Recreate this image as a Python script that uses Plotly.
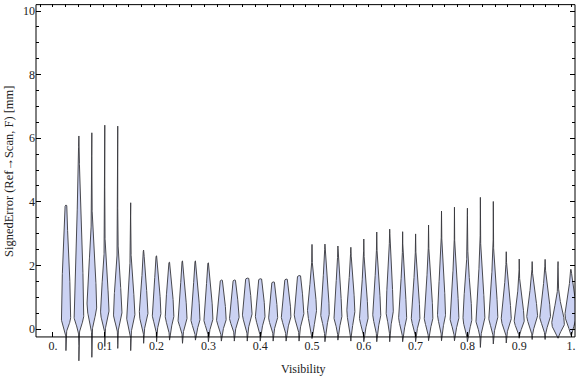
import numpy as np
import plotly.graph_objects as go

# ---- data ----
visibility = [0.025, 0.05, 0.075, 0.1, 0.125, 0.15, 0.175, 0.2, 0.225, 0.25,
              0.275, 0.3, 0.325, 0.35, 0.375, 0.4, 0.425, 0.45, 0.475, 0.5,
              0.525, 0.55, 0.575, 0.6, 0.625, 0.65, 0.675, 0.7, 0.725, 0.75,
              0.775, 0.8, 0.825, 0.85, 0.875, 0.9, 0.925, 0.95, 0.975, 1.0]
err_max = [3.90, 6.07, 6.17, 6.41, 6.38, 3.97, 2.48, 2.30, 2.10, 2.14,
           2.14, 2.08, 1.54, 1.54, 1.60, 1.58, 1.48, 1.57, 1.68, 2.66,
           2.67, 2.61, 2.57, 2.83, 3.05, 3.14, 3.06, 2.99, 3.27, 3.71,
           3.83, 3.80, 4.14, 4.01, 2.43, 2.20, 2.12, 2.19, 2.12, 1.88]
err_min = [-0.68, -1.00, -0.89, -0.55, -0.61, -0.68, -0.45, -0.40, -0.35, -0.45,
           -0.35, -0.40, -0.38, -0.38, -0.38, -0.38, -0.38, -0.38, -0.38, -0.30,
           -0.40, -0.35, -0.38, -0.40, -0.40, -0.40, -0.40, -0.40, -0.37, -0.37,
           -0.37, -0.40, -0.58, -0.47, -0.44, -0.29, -0.33, -0.33, -0.29, -0.20]
err_mode = [0.35, 0.40, 0.70, 0.50, 0.45, 0.40, 0.45, 0.45, 0.40, 0.30,
            0.30, 0.30, 0.30, 0.35, 0.45, 0.40, 0.35, 0.40, 0.45, 0.60,
            0.50, 0.40, 0.55, 0.35, 0.45, 0.55, 0.35, 0.35, 0.35, 0.45,
            0.35, 0.30, 0.30, 0.35, 0.30, 0.25, 0.40, 0.40, 0.15, 0.45]
peak_density = [4.7, 4.8, 4.8, 4.2, 4.2, 4.2, 4.3, 4.3, 4.3, 4.5,
                4.5, 4.5, 4.8, 4.8, 4.8, 4.8, 4.5, 4.8, 4.8, 4.5,
                4.3, 4.0, 4.0, 4.3, 4.0, 3.6, 4.0, 4.3, 4.3, 4.0,
                4.4, 4.4, 4.5, 4.5, 5.0, 5.0, 5.4, 5.4, 6.3, 6.0]
upper_spread = [1.9, 2.3, 1.3, 1.0, 1.0, 0.9, 0.9, 0.9, 0.85, 0.85,
                0.85, 0.85, 0.7, 0.7, 0.75, 0.75, 0.7, 0.7, 0.8, 0.65,
                0.85, 0.85, 0.8, 0.85, 0.9, 1.0, 0.9, 0.9, 0.95, 1.05,
                1.0, 1.0, 1.05, 0.95, 0.75, 0.6, 0.6, 0.65, 0.5, 0.6]
lower_spread = [0.22, 0.25, 0.35, 0.25, 0.25, 0.25, 0.25, 0.25, 0.25, 0.22,
                0.22, 0.22, 0.22, 0.22, 0.25, 0.25, 0.22, 0.25, 0.25, 0.40,
                0.30, 0.25, 0.35, 0.25, 0.28, 0.30, 0.25, 0.25, 0.25, 0.28,
                0.25, 0.25, 0.25, 0.25, 0.22, 0.20, 0.25, 0.25, 0.18, 0.30]
x_tick_vals = [0, 0.1, 0.2, 0.3, 0.4, 0.5, 0.6, 0.7, 0.8, 0.9, 1.0]
x_tick_text = ["0.", "0.1", "0.2", "0.3", "0.4", "0.5", "0.6", "0.7", "0.8", "0.9", "1."]
y_tick_vals = [0, 2, 4, 6, 8, 10]

# ---- build violin outlines ----
WIDTH_SCALE = 1 / 518.0  # density unit -> x units
xs, ys = [], []
for p, hi, lo, m, w, su, sl in zip(visibility, err_max, err_min, err_mode,
                                   peak_density, upper_spread, lower_spread):
    yy = np.linspace(lo, hi, 220)
    d = yy - m
    s = np.where(d >= 0, su, sl)
    hw = w * WIDTH_SCALE * np.exp(-0.5 * (d / s) ** 2)
    hw[0] = 0
    hw[-1] = 0
    xs += list(p + hw) + list(p - hw[::-1]) + [None]
    ys += list(yy) + list(yy[::-1]) + [None]

fig = go.Figure()
fig.add_trace(go.Scatter(
    x=xs, y=ys, mode="lines", fill="toself",
    fillcolor="rgb(203,210,243)",
    line=dict(color="rgba(55,55,60,0.9)", width=1),
    hoverinfo="skip", showlegend=False))
fig.add_trace(go.Scatter(x=[0.5], y=[None], xaxis="x2", showlegend=False,
                         hoverinfo="skip", mode="markers"))

Y_BOTTOM, Y_TOP = -1.195, 10.22
FRAME_BOTTOM = -0.25

fig.update_layout(
    width=576, height=377,
    margin=dict(l=36, r=1, t=4, b=10),
    plot_bgcolor="white", paper_bgcolor="white",
    font=dict(family="Liberation Serif", size=12, color="#222"),
    showlegend=False,
    xaxis=dict(range=[-0.0328, 1.0077], anchor="free", automargin=False,
               position=(FRAME_BOTTOM - Y_BOTTOM) / (Y_TOP - Y_BOTTOM),
               tickmode="array", tickvals=x_tick_vals, ticktext=x_tick_text,
               ticks="inside", ticklen=5, tickcolor="black", tickwidth=1,
               showgrid=False, zeroline=False, showline=False),
    xaxis2=dict(range=[-0.0328, 1.0077], overlaying="x", side="top", anchor="y",
                tickmode="linear", tick0=0, dtick=1 / 41, automargin=False,
                ticks="inside", ticklen=3, tickcolor="black",
                showticklabels=False, showgrid=False, zeroline=False, showline=False),
    yaxis=dict(range=[Y_BOTTOM, Y_TOP], tickmode="array", tickvals=y_tick_vals,
               ticks="inside", ticklen=5, tickcolor="black", mirror="ticks",
               automargin=False,
               minor=dict(tickvals=[v / 2 for v in range(1, 20) if v % 4 != 0],
                          ticks="inside", ticklen=3, tickcolor="black"),
               showgrid=False, zeroline=False, showline=False),
    shapes=[dict(type="rect", xref="paper", yref="y", x0=0, x1=1,
                 y0=FRAME_BOTTOM, y1=10.2, line=dict(color="black", width=1),
                 layer="above")],
    annotations=[
        dict(text="Visibility", xref="paper", yref="paper", x=0.497, y=-0.006,
             showarrow=False, xanchor="center", yanchor="middle",
             font=dict(size=12, color="#222")),
        dict(text="SignedError (Ref\u2192Scan, F) [mm]", xref="paper", yref="paper",
             x=-0.05, y=0.54, textangle=-90, showarrow=False,
             xanchor="center", yanchor="middle", font=dict(size=12.5, color="#222")),
    ],
)

fig.write_html("out.html", config={"displayModeBar": False},
               post_script="document.body.style.margin='0';")
